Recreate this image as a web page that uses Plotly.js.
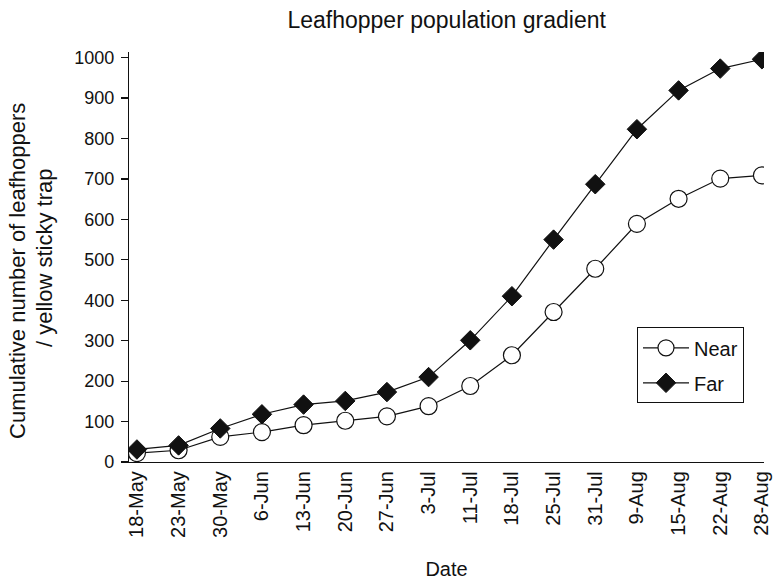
<!DOCTYPE html>
<html>
<head>
<meta charset="utf-8">
<script src="https://cdn.plot.ly/plotly-3.0.1.min.js"></script>
<style>html,body{margin:0;padding:0;background:#fff;}#chart{width:776px;height:580px;}</style>
</head>
<body>
<div id="chart"></div>
<script>
var dates = ["18-May","23-May","30-May","6-Jun","13-Jun","20-Jun","27-Jun","3-Jul","11-Jul","18-Jul","25-Jul","31-Jul","9-Aug","15-Aug","22-Aug","28-Aug"];
var nearValues = [22, 29, 62, 74, 91, 102, 113, 138, 188, 264, 371, 478, 589, 651, 701, 709];
var farValues = [31, 41, 83, 118, 142, 151, 173, 210, 301, 410, 550, 687, 823, 919, 973, 996];
var tickedDates = ["18-May","23-May","13-Jun","3-Jul","18-Jul","9-Aug","22-Aug","28-Aug"];
var tickedIdx = tickedDates.map(function(d){ return dates.indexOf(d); });
var yTitleLines = ["Cumulative number of leafhoppers", "/ yellow sticky trap"];

var FONT = "Liberation Sans, Arial, Helvetica, sans-serif";
var xRange = [-0.19, 15.05];

var traces = [
  {
    x: dates, y: nearValues, name: "Near", type: "scatter", mode: "lines+markers", legendgroup: "a",
    line: {color: "#111", width: 1.2},
    marker: {symbol: "circle", size: 17, color: "#fff", line: {color: "#111", width: 1.2}}
  },
  {
    x: dates, y: farValues, name: "Far", type: "scatter", mode: "lines+markers", legendgroup: "b",
    line: {color: "#111", width: 1.2},
    marker: {symbol: "diamond", size: 15, color: "#111", line: {color: "#111", width: 1}}
  }
];

var layout = {
  width: 776, height: 580,
  margin: {l: 129, r: 12, t: 52, b: 118},
  paper_bgcolor: "#fff", plot_bgcolor: "#fff",
  font: {family: FONT, size: 18, color: "#111"},
  title: {text: "Leafhopper population gradient", font: {family: FONT, size: 23, color: "#111"}, x: 0.5756, xanchor: "center", y: 0.965, yanchor: "middle"},
  showlegend: true,
  legend: {x: 0.8, y: 0.3285, xanchor: "left", yanchor: "top", bordercolor: "#111", borderwidth: 1, bgcolor: "#fff", font: {family: FONT, size: 20, color: "#111"}, traceorder: "grouped", tracegroupgap: 6, itemwidth: 46, entrywidth: 105},
  annotations: [
    {text: yTitleLines[0], xref: "paper", yref: "paper", x: -0.1748, y: 0.4659, xanchor: "center", yanchor: "middle", textangle: -90, showarrow: false, font: {family: FONT, size: 22, color: "#111"}},
    {text: yTitleLines[1], xref: "paper", yref: "paper", x: -0.1339, y: 0.5, xanchor: "center", yanchor: "middle", textangle: -90, showarrow: false, font: {family: FONT, size: 22, color: "#111"}}
  ],
  xaxis: {
    type: "category", range: xRange, showgrid: false, zeroline: false,
    showline: true, linecolor: "#111", linewidth: 1.2,
    ticks: "", tickangle: -90, tickfont: {family: FONT, size: 20, color: "#111"},
    title: {text: "Date", font: {family: FONT, size: 20, color: "#111"}, standoff: 25},
    fixedrange: true
  },
  xaxis2: {
    type: "linear", overlaying: "x", range: xRange, showgrid: false, zeroline: false,
    showline: false, showticklabels: false, tickmode: "array", tickvals: tickedIdx,
    ticks: "outside", ticklen: 5, tickwidth: 1.2, tickcolor: "#111", fixedrange: true
  },
  xaxis3: {
    type: "linear", overlaying: "x", range: xRange, showgrid: false, zeroline: false,
    showline: false, showticklabels: false, tickmode: "array", tickvals: tickedIdx,
    ticks: "inside", ticklen: 7, tickwidth: 1.2, tickcolor: "#111", fixedrange: true
  },
  yaxis: {
    range: [0, 1014], showgrid: false, zeroline: false,
    showline: true, linecolor: "#111", linewidth: 1.2,
    ticks: "outside", ticklen: 7, tickwidth: 1.2, tickcolor: "#111",
    tickmode: "linear", tick0: 0, dtick: 100, ticklabelstandoff: 3,
    tickfont: {family: FONT, size: 18, color: "#111"},
    fixedrange: true
  }
};

Plotly.newPlot("chart", traces, layout, {displayModeBar: false, staticPlot: true});
</script>
</body>
</html>
